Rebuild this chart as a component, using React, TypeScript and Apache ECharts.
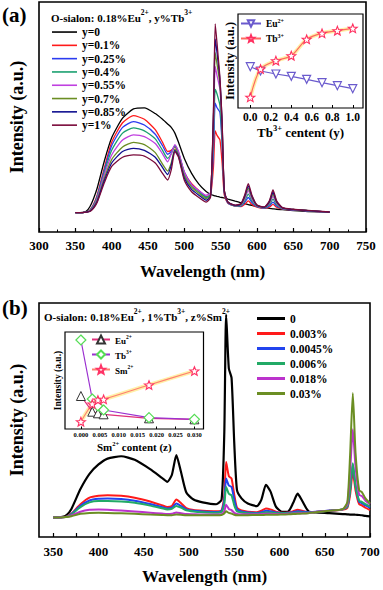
import React, { useEffect, useRef } from 'react';
import * as echarts from 'echarts';

const FONT = 'Liberation Serif';

// ---------- Panel (a): emission spectra, y% Tb3+ ----------
const WL_A = [350, 360, 365, 370, 375, 380, 390, 400, 415, 430, 445, 460, 470, 477, 482, 487, 492, 500, 510, 520, 530, 536, 540, 542.5, 545, 549, 552, 555, 560, 570, 578, 583, 588, 593, 600, 610, 617, 622, 627, 635, 650, 670, 700];
const A_Y0 = [8.4, 8.5, 9, 11, 14.5, 19, 31, 41, 49.5, 53.5, 54, 51.5, 49, 47, 45.5, 43, 39, 32, 25.5, 20.8, 17.6, 16.4, 15.9, 15.7, 15.5, 15.2, 15, 14.8, 14.3, 13.4, 12.7, 12.3, 11.9, 11.6, 11.1, 10.6, 10.3, 10.1, 9.9, 9.7, 9.3, 8.9, 8.6];
const A_Y01 = [8.4, 8.4, 8.6, 9.5, 12, 16, 28, 39, 47.5, 50.6, 49, 44.5, 39, 35, 35.5, 37, 33.5, 26, 21, 18, 15.5, 16, 28, 44, 42, 40, 30, 16, 12.5, 11.2, 11, 12, 13.5, 12, 10.8, 10.3, 10.8, 12, 10.8, 10, 9.6, 9.2, 8.6];
const A_Y025 = [8.4, 8.4, 8.6, 9.4, 11.7, 15.5, 27, 37.5, 45.5, 48, 46.5, 42.5, 37.5, 33.8, 35, 37.5, 34.5, 26, 20.5, 17.8, 15.2, 16, 35, 56, 54, 52, 38, 17, 12.6, 11.3, 11.3, 12.8, 15, 12.8, 11, 10.4, 11.3, 13, 11.3, 10.1, 9.6, 9.2, 8.6];
const A_Y04 = [8.4, 8.4, 8.6, 9.3, 11.4, 15, 26, 35.5, 43, 45.3, 44, 40.5, 35.5, 32, 34, 37.5, 34.5, 25.5, 20.2, 17.5, 15, 16.3, 40, 62, 60, 55, 40, 17.5, 12.8, 11.4, 11.5, 13.5, 16.5, 13.5, 11.2, 10.5, 11.8, 14.3, 11.8, 10.2, 9.7, 9.3, 8.6];
const A_Y055 = [8.4, 8.4, 8.6, 9.2, 11.1, 14.5, 25, 33.5, 40, 42.2, 41.5, 38.5, 34, 30.5, 34, 38, 35, 26, 20.5, 18, 16, 17, 45, 72, 68, 62, 45, 18, 13, 11.5, 11.8, 14.3, 18, 14.3, 11.4, 10.6, 12.3, 15.5, 12.3, 10.3, 9.7, 9.3, 8.6];
const A_Y07 = [8.4, 8.4, 8.6, 9.1, 10.8, 13.8, 23.5, 31.5, 37, 39, 38, 34.5, 29.5, 26.5, 30, 36, 33.5, 24.5, 19.5, 16.8, 14.5, 16, 48, 78, 73, 64, 46, 18, 13, 11.5, 12, 15, 19, 15, 11.5, 10.7, 12.8, 16.5, 12.8, 10.4, 9.8, 9.3, 8.6];
const A_Y085 = [8.4, 8.4, 8.6, 9, 10.6, 13.3, 22.5, 30, 35, 36.4, 35.5, 32.5, 28, 25, 29, 35.5, 33, 23.5, 18.5, 16, 13.8, 15.5, 50, 84, 78, 66, 47, 18, 13, 11.6, 12.2, 15.5, 20, 15.5, 11.6, 10.8, 13.2, 17.3, 13.2, 10.5, 9.8, 9.3, 8.6];
const A_Y1 = [8.4, 8.4, 8.6, 8.9, 10.3, 12.8, 21.5, 28.5, 32.5, 33.5, 33, 30, 25.5, 22.6, 27, 35, 32.5, 22.5, 17.5, 15, 13, 15, 52, 90.5, 82, 67, 48, 18, 13, 11.7, 12.4, 16, 21, 16, 11.7, 10.9, 13.6, 18.3, 13.6, 10.6, 9.9, 9.4, 8.7];
const NAMES_A = ['y=0', 'y=0.1%', 'y=0.25%', 'y=0.4%', 'y=0.55%', 'y=0.7%', 'y=0.85%', 'y=1%'];
const COLORS_A = ['#000000', '#ff1a1a', '#2b3cf0', '#1aa070', '#c040e0', '#6b8e23', '#101090', '#7a0a3a'];
const SERIES_A = [A_Y0, A_Y01, A_Y025, A_Y04, A_Y055, A_Y07, A_Y085, A_Y1];

// Inset (a)
const TB_Y = [0, 0.1, 0.25, 0.4, 0.55, 0.7, 0.85, 1.0];
const INA_EU = [41.3, 37, 34, 31.7, 28.7, 25.3, 22.3, 19.3];
const INA_TB = [10.7, 39, 47.3, 52.3, 68.7, 74.7, 77.3, 79.7];
const INA_TICKS = [0, 0.2, 0.4, 0.6, 0.8, 1.0];

// ---------- Panel (b): emission spectra, z% Sm2+ ----------
const WL_B = [350, 360, 365, 370, 380, 390, 400, 410, 425, 440, 457, 470, 476, 481, 486, 491, 497, 505, 515, 530, 536, 539, 541, 544, 547, 550, 553, 558, 565, 575, 580, 585, 590, 596, 603, 610, 615, 620, 625, 632, 640, 655, 670, 675, 678, 681, 684, 688, 691, 695, 700];
const B_Z0 = [8.3, 8.6, 9.5, 12, 20.5, 27, 31, 33.5, 34.5, 33, 29, 25.3, 23.6, 26.5, 35, 28, 19, 16, 14.8, 14, 16, 45, 95, 72, 68, 40, 20, 16.5, 14.3, 13.2, 16, 22.3, 19.5, 13, 10.7, 11, 14.5, 18.5, 15.5, 11, 10.5, 10.2, 9.8, 9.7, 9.6, 9.6, 9.5, 9.4, 9.3, 9, 8.8];
const B_Z003 = [8.3, 8.4, 8.8, 10, 14, 16.8, 17.6, 17.8, 17.6, 16.8, 15.2, 13.6, 12.8, 13.2, 16, 14.5, 12.3, 11.5, 11.2, 11, 11.5, 18, 32, 26, 25, 18, 12.5, 11.3, 10.8, 10.6, 11.2, 12.2, 11.8, 10.8, 10.4, 10.5, 11, 11.6, 11.2, 10.6, 10.7, 11.2, 11.7, 12.5, 18, 28, 20, 14, 13.5, 12.5, 11.5];
const B_Z0045 = [8.3, 8.4, 8.7, 9.8, 13.3, 15.6, 16.3, 16.4, 16.2, 15.5, 14.1, 12.8, 12.2, 12.5, 14.3, 13.3, 11.8, 11.2, 10.9, 10.7, 11.2, 16, 25, 22, 21.4, 16, 11.8, 10.9, 10.5, 10.3, 10.6, 11.2, 11, 10.5, 10.3, 10.4, 10.6, 11, 10.8, 10.6, 10.8, 11.3, 11.8, 13, 20, 31, 22, 15, 14.5, 13.5, 12.5];
const B_Z006 = [8.3, 8.4, 8.7, 9.6, 12.8, 14.8, 15.4, 15.4, 15.2, 14.6, 13.4, 12.3, 11.8, 12, 13.3, 12.6, 11.4, 10.9, 10.6, 10.4, 10.8, 14, 21.4, 18.5, 17.8, 13.5, 11, 10.5, 10.2, 10, 10.2, 10.6, 10.5, 10.2, 10.1, 10.2, 10.3, 10.5, 10.4, 10.4, 10.7, 11.2, 11.8, 13, 20, 31.5, 22, 15.5, 15, 14, 13];
const B_Z018 = [8.3, 8.4, 8.6, 9.2, 10.8, 11.6, 11.7, 11.6, 11.3, 10.9, 10.4, 10, 9.8, 9.9, 10.5, 10.2, 9.8, 9.7, 9.6, 9.6, 9.8, 11, 13.8, 12, 11.5, 10.3, 9.8, 9.7, 9.7, 9.7, 9.8, 9.9, 9.9, 9.8, 9.8, 9.9, 10, 10.1, 10.1, 10.3, 10.7, 11.2, 11.8, 14, 28, 46, 30, 18, 17.5, 15.5, 14];
const B_Z03 = [8.3, 8.4, 8.5, 8.9, 9.9, 10.3, 10.4, 10.3, 10.1, 9.9, 9.6, 9.4, 9.3, 9.3, 9.6, 9.5, 9.3, 9.3, 9.3, 9.3, 9.4, 10, 11, 10.3, 10, 9.5, 9.3, 9.3, 9.3, 9.4, 9.4, 9.5, 9.5, 9.5, 9.6, 9.7, 9.8, 9.9, 10, 10.2, 10.6, 11.2, 11.9, 15, 35, 61.5, 36, 20, 19.2, 16.5, 14.4];
const NAMES_B = ['0', '0.003%', '0.0045%', '0.006%', '0.018%', '0.03%'];
const COLORS_B = ['#000000', '#ff1a1a', '#2244ee', '#22aa66', '#bb33cc', '#6b8e23'];
const SERIES_B = [B_Z0, B_Z003, B_Z0045, B_Z006, B_Z018, B_Z03];
const B_LABELS = [350, 400, 450, 500, 550, 600, 650, 700];
const B_TICKS = [350, 375, 400, 425, 450, 475, 500, 525, 550, 575, 600, 625, 650, 675, 700];

// Inset (b)
const SM_Z = [0, 0.003, 0.0045, 0.006, 0.018, 0.03];
const INB_EU = [33, 17.3, 15.7, 14.7, 10.7, 9.7];
const INB_TB = [89, 30, 23, 19, 11.3, 9.7];
const INB_SM = [7.3, 25, 29, 29.7, 44, 58];
const INB_TICKS = [0, 0.005, 0.01, 0.015, 0.02, 0.025, 0.03];

const STAR = 'path://M12,1 L14.9,8.6 L23,9 L16.7,14.1 L18.8,22 L12,17.6 L5.2,22 L7.3,14.1 L1,9 L9.1,8.6 Z';

const zip = (xs: number[], ys: number[]) => xs.map((x, i) => [x, ys[i]]);

const rich = (n: number, s: number, lh: number, slh?: number) => ({
  n: { fontSize: n, fontWeight: 'bold', fontFamily: FONT, color: '#000', verticalAlign: 'bottom', lineHeight: lh },
  s: { fontSize: s, fontWeight: 'bold', fontFamily: FONT, color: '#000', verticalAlign: 'top', lineHeight: slh || s },
});

const LEG_LABEL: Record<string, string> = {
  'a-Eu': '{n|Eu}{s|2+}',
  'a-Tb': '{n|Tb}{s|3+}',
  'b-Eu': '{n|Eu}{s|2+}',
  'b-Tb': '{n|Tb}{s|3+}',
  'b-Sm': '{n|Sm}{s|2+}',
};

export default function App() {
  const ref = useRef<HTMLDivElement>(null);
  useEffect(() => {
    if (!ref.current) return;
    const chart = echarts.init(ref.current, undefined, { renderer: 'svg' });
    const series: any[] = [];
    SERIES_A.forEach((d, i) => {
      series.push({
        type: 'line', name: NAMES_A[i], xAxisIndex: 0, yAxisIndex: 0, data: zip(WL_A, d),
        showSymbol: false, symbol: 'none', smooth: 0.2, color: COLORS_A[i],
        lineStyle: { width: 1.3, color: COLORS_A[i] },
      });
    });
    SERIES_B.forEach((d, i) => {
      series.push({
        type: 'line', name: NAMES_B[i], xAxisIndex: 2, yAxisIndex: 2, data: zip(WL_B, d),
        showSymbol: false, symbol: 'none', smooth: 0.2, color: COLORS_B[i],
        lineStyle: { width: i === 0 ? 2.2 : 2, color: COLORS_B[i] },
      });
    });
    // inset (a)
    series.push({
      type: 'line', name: 'glowA', xAxisIndex: 1, yAxisIndex: 1, data: zip(TB_Y, INA_TB), smooth: 0.3,
      symbol: 'none', silent: true, lineStyle: { width: 4, color: '#fff0a8' }, z: 3,
    });
    series.push({
      type: 'line', name: 'a-Eu', xAxisIndex: 1, yAxisIndex: 1, data: zip(TB_Y, INA_EU),
      symbol: 'triangle', symbolRotate: 180, symbolSize: 8, color: '#6a5acd',
      itemStyle: { color: '#fff', borderColor: '#6a5acd', borderWidth: 1.2 },
      lineStyle: { width: 1.2, color: '#6a5acd' }, z: 4,
    });
    series.push({
      type: 'line', name: 'a-Tb', xAxisIndex: 1, yAxisIndex: 1, data: zip(TB_Y, INA_TB), smooth: 0.3,
      symbol: STAR, symbolKeepAspect: true, symbolSize: 9, color: '#ff5070',
      itemStyle: { color: '#fff', borderColor: '#ff3060', borderWidth: 1.1 },
      lineStyle: { width: 1.2, color: '#ff6a60' }, z: 5,
    });
    // inset (b)
    series.push({
      type: 'line', name: 'glowB', xAxisIndex: 3, yAxisIndex: 3, data: zip(SM_Z, INB_SM), smooth: 0.3,
      symbol: 'none', silent: true, lineStyle: { width: 4, color: '#fff0a8' }, z: 3,
    });
    series.push({
      type: 'line', name: 'b-Eu', xAxisIndex: 3, yAxisIndex: 3, data: zip(SM_Z, INB_EU),
      symbol: 'triangle', symbolSize: 9, color: '#e0307a',
      itemStyle: { color: '#fff', borderColor: '#333', borderWidth: 1 },
      lineStyle: { width: 1.2, color: '#e0307a' }, z: 4,
    });
    series.push({
      type: 'line', name: 'b-Tb', xAxisIndex: 3, yAxisIndex: 3, data: zip(SM_Z, INB_TB),
      symbol: 'diamond', symbolSize: 10, color: '#9b30d0',
      itemStyle: { color: '#fff', borderColor: '#55dd55', borderWidth: 1.2 },
      lineStyle: { width: 1.2, color: '#9b30d0' }, z: 5,
    });
    series.push({
      type: 'line', name: 'b-Sm', xAxisIndex: 3, yAxisIndex: 3, data: zip(SM_Z, INB_SM), smooth: 0.3,
      symbol: STAR, symbolKeepAspect: true, symbolSize: 9, color: '#ff4070',
      itemStyle: { color: '#fff', borderColor: '#ff3366', borderWidth: 1.1 },
      lineStyle: { width: 1.2, color: '#ff8070' }, z: 6,
    });

    const mainX = (extra: any) => ({
      type: 'value', splitLine: { show: false }, axisLine: { show: false },
      axisTick: { show: true, inside: true, length: 4, lineStyle: { color: '#000', width: 1.2 } },
      axisLabel: { fontSize: 13, fontWeight: 'bold', fontFamily: FONT, color: '#000', margin: 7 },
      nameLocation: 'middle', nameGap: 31,
      nameTextStyle: { fontSize: 17, fontWeight: 'bold', fontFamily: FONT, color: '#000' },
      name: 'Wavelength (nm)',
      ...extra,
    });
    const hiddenY = (extra: any) => ({
      type: 'value', splitLine: { show: false }, axisLine: { show: false }, axisTick: { show: false },
      axisLabel: { show: false }, nameLocation: 'middle', name: 'Intensity (a.u.)',
      ...extra,
    });

    const option: any = {
      animation: false,
      backgroundColor: '#fff',
      textStyle: { fontFamily: FONT, fontWeight: 'bold', color: '#000' },
      grid: [
        { left: 39, top: 2, width: 327, height: 230, show: true, borderColor: '#000', borderWidth: 1.6, backgroundColor: 'transparent' },
        { left: 238, top: 14, width: 125, height: 94, show: true, borderColor: '#000', borderWidth: 1.2, backgroundColor: '#fff' },
        { left: 39, top: 303, width: 331, height: 234, show: true, borderColor: '#000', borderWidth: 1.6, backgroundColor: 'transparent' },
        { left: 65, top: 332, width: 138.5, height: 97, show: true, borderColor: '#000', borderWidth: 1.2, backgroundColor: '#fff' },
      ],
      xAxis: [
        mainX({ gridIndex: 0, min: 300, max: 750, interval: 50, minorTick: { show: true, splitNumber: 2, length: 2.5, lineStyle: { color: '#000', width: 1 } } }),
        {
          type: 'value', gridIndex: 1, min: -0.12, max: 1.1, splitLine: { show: false }, axisLine: { show: false },
          axisTick: { show: true, inside: true, length: 3, customValues: INA_TICKS, lineStyle: { color: '#000' } },
          axisLabel: { customValues: INA_TICKS, formatter: (v: number) => v.toFixed(1), fontSize: 11.5, fontWeight: 'bold', fontFamily: FONT, color: '#000', margin: 3 },
          name: '{n|Tb}{s|3+}{n| centent (y)}', nameLocation: 'middle', nameGap: 15,
          nameTextStyle: { rich: rich(13, 8.5, 15) },
        },
        mainX({
          gridIndex: 2, min: 334.2, max: 700,
          axisTick: { show: true, inside: true, length: 4, customValues: B_TICKS, lineStyle: { color: '#000', width: 1.2 } },
          axisLabel: { customValues: B_LABELS, fontSize: 13, fontWeight: 'bold', fontFamily: FONT, color: '#000', margin: 7.5 },
        }),
        {
          type: 'value', gridIndex: 3, min: -0.0042, max: 0.0324, splitLine: { show: false }, axisLine: { show: false },
          axisTick: { show: true, inside: true, length: 2.5, customValues: INB_TICKS, lineStyle: { color: '#000' } },
          axisLabel: { customValues: INB_TICKS, formatter: (v: number) => v.toFixed(3), fontSize: 6.5, fontWeight: 'bold', fontFamily: FONT, color: '#000', margin: 2 },
          name: '{n|Sm}{s|2+}{n| content (z)}', nameLocation: 'middle', nameGap: 11,
          nameTextStyle: { rich: rich(11, 6.5, 12) },
        },
      ],
      yAxis: [
        hiddenY({ gridIndex: 0, min: 0, max: 100, nameGap: 13, nameTextStyle: { fontSize: 18, fontWeight: 'bold', fontFamily: FONT, color: '#000' } }),
        hiddenY({ gridIndex: 1, min: 0, max: 94, nameGap: 2, nameTextStyle: { fontSize: 12.5, fontWeight: 'bold', fontFamily: FONT, color: '#000' } }),
        hiddenY({ gridIndex: 2, min: 0, max: 100, nameGap: 13, nameTextStyle: { fontSize: 18, fontWeight: 'bold', fontFamily: FONT, color: '#000' } }),
        hiddenY({ gridIndex: 3, min: 0, max: 97, nameGap: 2.5, nameTextStyle: { fontSize: 9.5, fontWeight: 'bold', fontFamily: FONT, color: '#000' } }),
      ],
      legend: [
        {
          data: NAMES_A, orient: 'vertical', left: 52, top: 25.4, padding: 0, icon: 'rect', itemWidth: 25, itemHeight: 1.6,
          itemGap: 0, selectedMode: false,
          textStyle: { fontSize: 11.5, fontWeight: 'bold', fontFamily: FONT, color: '#000', lineHeight: 13.3 },
        },
        {
          data: NAMES_B, orient: 'vertical', left: 257, top: 311, padding: 0, icon: 'rect', itemWidth: 28, itemHeight: 3,
          itemGap: 0, selectedMode: false, itemStyle: { borderWidth: 0 },
          textStyle: { fontSize: 11.5, fontWeight: 'bold', fontFamily: FONT, color: '#000', lineHeight: 15 },
        },
        {
          data: ['a-Eu', 'a-Tb'], orient: 'vertical', left: 240, top: 18, padding: 0, itemWidth: 20, itemHeight: 8,
          itemGap: 4, selectedMode: false, formatter: (n: string) => LEG_LABEL[n],
          textStyle: { rich: rich(9.5, 6, 11, 6) },
        },
        {
          data: ['b-Eu', 'b-Tb', 'b-Sm'], orient: 'vertical', left: 91, top: 334, padding: 0, itemWidth: 18, itemHeight: 10,
          itemGap: 4, selectedMode: false, formatter: (n: string) => LEG_LABEL[n],
          textStyle: { rich: rich(9, 5.5, 11, 5.5) },
        },
      ],
      graphic: [
        { type: 'text', left: 2, top: 4, style: { text: '(a)', fontSize: 21, fontWeight: 'bold', fontFamily: FONT, fill: '#000' } },
        { type: 'text', left: 2, top: 297, style: { text: '(b)', fontSize: 21, fontWeight: 'bold', fontFamily: FONT, fill: '#000' } },
        {
          type: 'text', left: 51, top: 8,
          style: { text: '{n|O-sialon: 0.18%Eu}{s|2+}{n|, y%Tb}{s|3+}', rich: rich(11, 7.5, 15) },
        },
        {
          type: 'text', left: 44, top: 307,
          style: { text: '{n|O-sialon: 0.18%Eu}{s|2+}{n|, 1%Tb}{s|3+}{n|, z%Sm}{s|2+}', rich: rich(11, 7.5, 15) },
        },
      ],
      series,
    };
    chart.setOption(option);
    return () => chart.dispose();
  }, []);
  return <div ref={ref} style={{ position: 'fixed', left: 0, top: 0, width: 383, height: 590, background: '#fff' }} />;
}
